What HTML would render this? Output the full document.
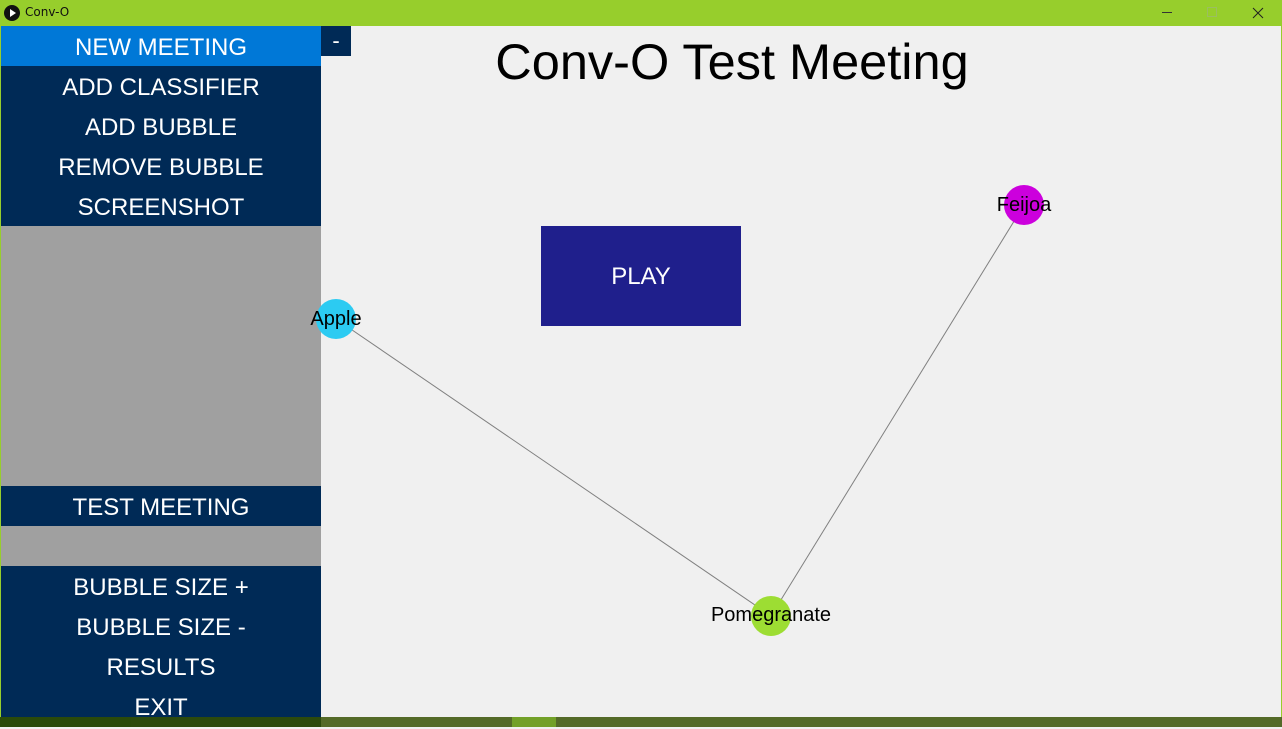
<!DOCTYPE html>
<html><head><style>
*{margin:0;padding:0;box-sizing:border-box}
body{width:1282px;height:727px;overflow:hidden;background:#f0f0f0;font-family:"Liberation Sans",sans-serif;position:relative}
.abs{position:absolute}
.btn{position:absolute;left:1px;width:320px;height:40px;background:#002a56;color:#fff;font-size:24px;text-align:center;line-height:43px}
</style></head><body>
<div class="abs" style="left:0;top:0;width:1282px;height:26px;background:#97ce2c"></div>
<div class="abs" style="left:4px;top:5px;width:16px;height:16px;border-radius:50%;background:#111"></div>
<div class="abs" style="left:10px;top:9px;width:0;height:0;border-left:6px solid #fff;border-top:4px solid transparent;border-bottom:4px solid transparent"></div>
<div class="abs" style="left:25px;top:5px;font-size:12px;color:#111;font-family:'DejaVu Sans',sans-serif">Conv-O</div>
<div class="abs" style="left:1162px;top:12px;width:10px;height:1px;background:#333"></div>
<div class="abs" style="left:1207px;top:7px;width:10px;height:10px;border:1px solid #9bbf60"></div>
<svg class="abs" style="left:1252px;top:7px" width="12" height="12"><path d="M1 1L11 11M11 1L1 11" stroke="#222" stroke-width="1"/></svg>
<div class="abs" style="left:0;top:26px;width:1px;height:691px;background:#97ce2c"></div>
<div class="abs" style="left:1281px;top:26px;width:1px;height:691px;background:#97ce2c"></div>
<div class="abs" style="left:1px;top:226px;width:320px;height:260px;background:#a0a0a0"></div>
<div class="abs" style="left:1px;top:526px;width:320px;height:40px;background:#a0a0a0"></div>
<div class="btn" style="top:26px;background:#0078d7">NEW MEETING</div>
<div class="btn" style="top:66px">ADD CLASSIFIER</div>
<div class="btn" style="top:106px">ADD BUBBLE</div>
<div class="btn" style="top:146px">REMOVE BUBBLE</div>
<div class="btn" style="top:186px">SCREENSHOT</div>
<div class="btn" style="top:486px">TEST MEETING</div>
<div class="btn" style="top:566px">BUBBLE SIZE +</div>
<div class="btn" style="top:606px">BUBBLE SIZE -</div>
<div class="btn" style="top:646px">RESULTS</div>
<div class="btn" style="top:686px;height:31px">EXIT</div>
<div class="abs" style="left:321px;top:26px;width:30px;height:30px;background:#002a56;color:#fff;font-size:22px;text-align:center;line-height:30px">-</div>
<div class="abs" style="left:321px;top:32px;width:822px;text-align:center;font-size:50.5px;color:#000">Conv-O Test Meeting</div>
<div class="abs" style="left:541px;top:226px;width:200px;height:100px;background:#1f1f8c;color:#fff;font-size:24px;text-align:center;line-height:102px">PLAY</div>
<svg class="abs" style="left:0;top:0" width="1282" height="727">
<line x1="336" y1="319" x2="771" y2="616" stroke="#808080" stroke-width="1"/>
<line x1="1024" y1="205" x2="771" y2="616" stroke="#808080" stroke-width="1"/>
<circle cx="336" cy="319" r="20" fill="#2ccbf2"/>
<circle cx="1024" cy="205" r="20" fill="#cc00dd"/>
<circle cx="771" cy="616" r="20" fill="#9ddd33"/>
<text x="336" y="325" font-size="20" text-anchor="middle" font-family="Liberation Sans">Apple</text>
<text x="1024" y="211" font-size="20" text-anchor="middle" font-family="Liberation Sans">Feijoa</text>
<text x="771" y="621" font-size="20" text-anchor="middle" font-family="Liberation Sans">Pomegranate</text>
</svg>
<div class="abs" style="left:0;top:717px;width:1282px;height:10px;background:#546a28"></div>
<div class="abs" style="left:0;top:717px;width:131px;height:10px;background:#2a4a0a"></div>
<div class="abs" style="left:131px;top:717px;width:190px;height:10px;background:#2c4a0c"></div>
<div class="abs" style="left:512px;top:717px;width:44px;height:10px;background:#72a028"></div>
</body></html>
